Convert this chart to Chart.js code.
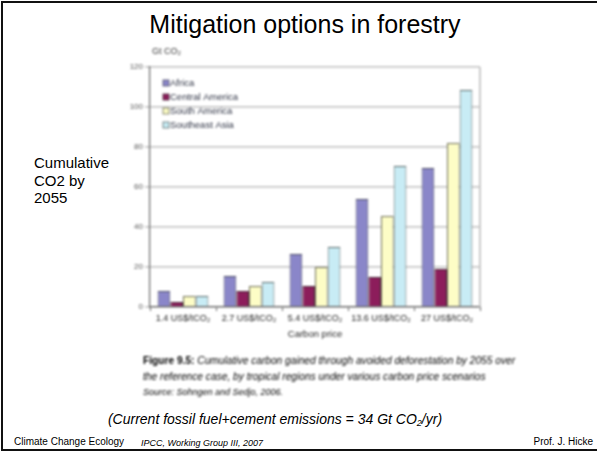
<!DOCTYPE html>
<html>
<head>
<meta charset="utf-8">
<script src="https://cdn.jsdelivr.net/npm/chart.js@4/dist/chart.umd.min.js"></script>
<style>
  html, body { margin: 0; padding: 0; width: 597px; height: 452px; overflow: hidden; background: #fff; }
  body { position: relative; font-family: "Liberation Sans", Arial, sans-serif; color: #000; }
  .frame { position: absolute; left: 1px; top: 1px; width: 620px; height: 446px; border: 2px solid #111; border-right: none; box-sizing: content-box; }
  .title { position: absolute; left: 0; width: 610px; top: 9px; text-align: center; font-size: 25px; line-height: 30px; }
  .side { position: absolute; left: 34px; top: 154px; font-size: 15px; line-height: 17.5px; }
  .figure { position: absolute; left: 0; top: 0; width: 597px; height: 400px; filter: blur(0.8px); }
  #chartBox { position: absolute; left: 100px; top: 40px; width: 400px; height: 305px; }
  .caption { position: absolute; left: 143px; top: 353px; width: 400px; font-family: "Liberation Sans Narrow", "Liberation Sans", Arial, sans-serif; font-size: 10.2px; line-height: 15.5px; color: #000; font-style: italic; white-space: nowrap; }
  .caption b { font-style: normal; }
  .caption .src { font-size: 9px; line-height: 14px; }
  .note { position: absolute; left: 0; width: 550px; top: 410px; text-align: center; font-size: 14px; font-style: italic; line-height: 18px; }
  .note sub { font-size: 9px; vertical-align: -2px; line-height: 0; }
  .foot { position: absolute; top: 436px; font-size: 10px; line-height: 12px; }
</style>
</head>
<body>
<div class="frame"></div>
<div class="title">Mitigation options in forestry</div>
<div class="side">Cumulative<br>CO2 by<br>2055</div>

<div class="figure">
  <div id="chartBox"><canvas id="c" width="400" height="305"></canvas></div>
  <div class="caption">
    <b>Figure 9.5:</b> Cumulative carbon gained through avoided deforestation by 2055 over<br>
    the reference case, by tropical regions under various carbon price scenarios<br>
    <span class="src">Source: Sohngen and Sedjo, 2006.</span>
  </div>
</div>

<div class="note">(Current fossil fuel+cement emissions = 34 Gt CO<sub>2</sub>/yr)</div>
<div class="foot" style="left:14px;">Climate Change Ecology</div>
<div class="foot" style="left:141px; font-style:italic; font-size:9px; top:437px;">IPCC, Working Group III, 2007</div>
<div class="foot" style="right:4px;">Prof. J. Hicke</div>

<script>
// Carbon price scenarios (x axis)
const carbonPrices = ['1.4 US$/tCO\u2082', '2.7 US$/tCO\u2082', '5.4 US$/tCO\u2082', '13.6 US$/tCO\u2082', '27 US$/tCO\u2082'];

// Cumulative carbon gained by 2055, Gt CO2, per tropical region
const regions = ['Africa', 'Central America', 'South America', 'Southeast Asia'];
const africa         = [8, 15.5, 26.5, 54, 69.5];
const centralAmerica = [2.5, 8, 10.5, 15, 19];
const southAmerica   = [5.5, 10.5, 20, 45.5, 82];
const southeastAsia  = [5.5, 12.5, 30, 70.5, 108.5];

// Y axis range
const yTicks = [0, 20, 40, 60, 80, 100, 120];

const fills = ['#8a86c9', '#8c1d5b', '#fdfdc6', '#c8ecf5'];
const edges = ['#4e4e66', '#4a2a3a', '#6e6e58', '#5a6a6a'];
const seriesValues = [africa, centralAmerica, southAmerica, southeastAsia];

const datasets = regions.map((name, i) => ({
  label: name,
  data: seriesValues[i],
  backgroundColor: fills[i],
  borderColor: edges[i],
  borderWidth: 1,
  categoryPercentage: 0.77,
  barPercentage: 1.0
}));

// Legend drawn inside the plot area, plus the unit label and the right frame edge
const insideLegend = {
  id: 'insideLegend',
  afterDraw(chart) {
    const ctx = chart.ctx;
    const a = chart.chartArea;
    ctx.save();
    // right frame edge
    ctx.strokeStyle = '#c4c4c4';
    ctx.lineWidth = 1.8;
    ctx.beginPath();
    ctx.moveTo(a.right, a.top);
    ctx.lineTo(a.right, a.bottom);
    ctx.stroke();
    // unit label
    ctx.fillStyle = '#333';
    ctx.font = '9px "Liberation Sans", Arial, sans-serif';
    ctx.textBaseline = 'middle';
    ctx.textAlign = 'left';
    ctx.fillText('Gt CO\u2082', a.left + 2, a.top - 15);
    // legend entries
    chart.data.datasets.forEach((ds, i) => {
      const y = a.top + 16 + i * 14;
      const x = a.left + 13;
      ctx.fillStyle = ds.backgroundColor;
      ctx.fillRect(x, y - 3, 6, 6);
      ctx.strokeStyle = ds.borderColor;
      ctx.lineWidth = 0.8;
      ctx.strokeRect(x, y - 3, 6, 6);
      ctx.fillStyle = '#2c3142';
      ctx.font = '9.5px "Liberation Sans", Arial, sans-serif';
      ctx.fillText(ds.label, x + 7, y + 0.5);
    });
    ctx.restore();
  }
};

new Chart(document.getElementById('c'), {
  type: 'bar',
  data: { labels: carbonPrices, datasets },
  options: {
    responsive: false,
    animation: false,
    devicePixelRatio: 1,
    layout: { padding: { top: 27, right: 20, left: 0, bottom: 0 } },
    plugins: { legend: { display: false }, tooltip: { enabled: false } },
    scales: {
      x: {
        grid: { display: true, drawOnChartArea: false, offset: true, tickLength: 4, color: '#666' },
        border: { color: '#666', width: 1.2 },
        ticks: { color: '#222', padding: 2, maxRotation: 0, autoSkip: false, font: { size: 9, family: '"Liberation Sans", Arial, sans-serif' } },
        title: { display: true, text: 'Carbon price', color: '#222', padding: { top: 0, bottom: 5 }, font: { size: 9.5, family: '"Liberation Sans", Arial, sans-serif' } },
        afterFit(s) { s.height = 38; }
      },
      y: {
        min: yTicks[0],
        max: yTicks[yTicks.length - 1],
        afterBuildTicks(s) { s.ticks = yTicks.map(v => ({ value: v })); },
        grid: { color: '#c8c8c8', lineWidth: 1.8, tickLength: 5, drawTicks: true },
        border: { color: '#666', width: 1.2 },
        ticks: { color: '#555', padding: 2, font: { size: 8, family: '"Liberation Sans", Arial, sans-serif' } },
        afterFit(s) { s.width = 50; }
      }
    }
  },
  plugins: [insideLegend]
});
</script>
</body>
</html>
